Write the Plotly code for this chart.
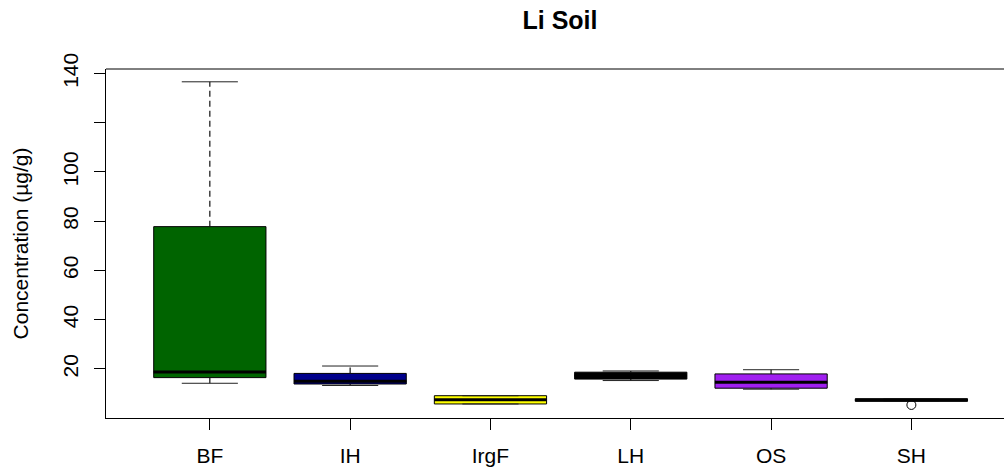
import plotly.graph_objects as go

categories = ["BF", "IH", "IrgF", "LH", "OS", "SH"]
lower = [14.2, 13.3, 5.8, 15.3, 11.8, 6.9]
q1 = [16.5, 13.9, 5.8, 15.9, 12.2, 6.9]
median = [18.8, 15.0, 7.5, 17.3, 14.6, 7.4]
q3 = [77.8, 18.2, 9.15, 18.7, 18.0, 7.9]
upper = [136.6, 21.2, 9.15, 19.2, 19.7, 7.9]
fill_colors = ["#006400", "#00008B", "#FFFF00", "#000000", "#A020F0", "#000000"]
outlier_cat = ["SH"]
outlier_val = [5.4]

y_tickvals = [20, 40, 60, 80, 100, 120, 140]
y_ticktext = ["20", "40", "60", "80", "100", "", "140"]

FONT = "Liberation Sans, Arial, Helvetica, sans-serif"
pos = {c: i + 1 for i, c in enumerate(categories)}
BOXW = 0.8
STAPLE = 0.4

fig = go.Figure()

# whiskers (dashed)
wx, wy = [], []
for c, lo, a, b, hi in zip(categories, lower, q1, q3, upper):
    p = pos[c]
    wx += [p, p, None, p, p, None]
    wy += [b, hi, None, a, lo, None]
fig.add_trace(go.Scatter(x=wx, y=wy, mode="lines", line=dict(color="#111", width=1.2, dash="6px,4px"),
                         hoverinfo="skip", showlegend=False))

# staples
sx, sy = [], []
for c, lo, hi in zip(categories, lower, upper):
    p = pos[c]
    sx += [p - STAPLE / 2, p + STAPLE / 2, None, p - STAPLE / 2, p + STAPLE / 2, None]
    sy += [hi, hi, None, lo, lo, None]
fig.add_trace(go.Scatter(x=sx, y=sy, mode="lines", line=dict(color="#222", width=1),
                         hoverinfo="skip", showlegend=False))

# boxes
for c, a, m, b, col in zip(categories, q1, median, q3, fill_colors):
    p = pos[c]
    fig.add_trace(go.Box(x=[p], q1=[a], median=[m], q3=[b], lowerfence=[a], upperfence=[b],
                         width=BOXW, fillcolor=col, line=dict(color="#000", width=1),
                         whiskerwidth=0, showlegend=False, hoverinfo="skip"))

# thick medians
mx, my = [], []
for c, m in zip(categories, median):
    p = pos[c]
    mx += [p - BOXW / 2, p + BOXW / 2, None]
    my += [m, m, None]
fig.add_trace(go.Scatter(x=mx, y=my, mode="lines", line=dict(color="#000", width=3),
                         hoverinfo="skip", showlegend=False))

# outliers
fig.add_trace(go.Scatter(x=[pos[c] for c in outlier_cat], y=outlier_val, mode="markers",
                         marker=dict(symbol="circle-open", size=9, color="#000", line=dict(width=1)),
                         hoverinfo="skip", showlegend=False))

fig.update_layout(
    width=1005, height=468,
    margin=dict(l=106, r=1, t=69, b=50),
    paper_bgcolor="white", plot_bgcolor="white",
    font=dict(family=FONT, size=21, color="#000"),
    title=dict(text="<b>Li Soil</b>", x=560 / 1005, xref="container", xanchor="center",
               y=1 - 20 / 468, yref="container", yanchor="middle",
               font=dict(family=FONT, size=25, color="#000")),
    xaxis=dict(range=[0.26, 6.66], tickvals=[pos[c] for c in categories], ticktext=categories,
               showgrid=False, zeroline=False, showline=True, linecolor="#000", linewidth=1,
               ticks="outside", ticklen=11, tickcolor="#000", tickfont=dict(size=21),
               ticklabelstandoff=8, automargin=False),
    yaxis=dict(range=[0.1, 141.8], tickvals=y_tickvals, ticktext=y_ticktext, tickangle=-90,
               showgrid=False, zeroline=False, showline=True, linecolor="#000", linewidth=1,
               ticks="outside", ticklen=11, tickcolor="#000", tickfont=dict(size=21),
               ticklabelstandoff=8, automargin=False,
               title=dict(text="Concentration (µg/g)", standoff=24, font=dict(size=21))),
    shapes=[dict(type="line", xref="paper", yref="paper", x0=0, x1=1, y0=1, y1=1,
                 line=dict(color="#000", width=1))],
)

fig.write_html("out.html", config={"displayModeBar": False})
